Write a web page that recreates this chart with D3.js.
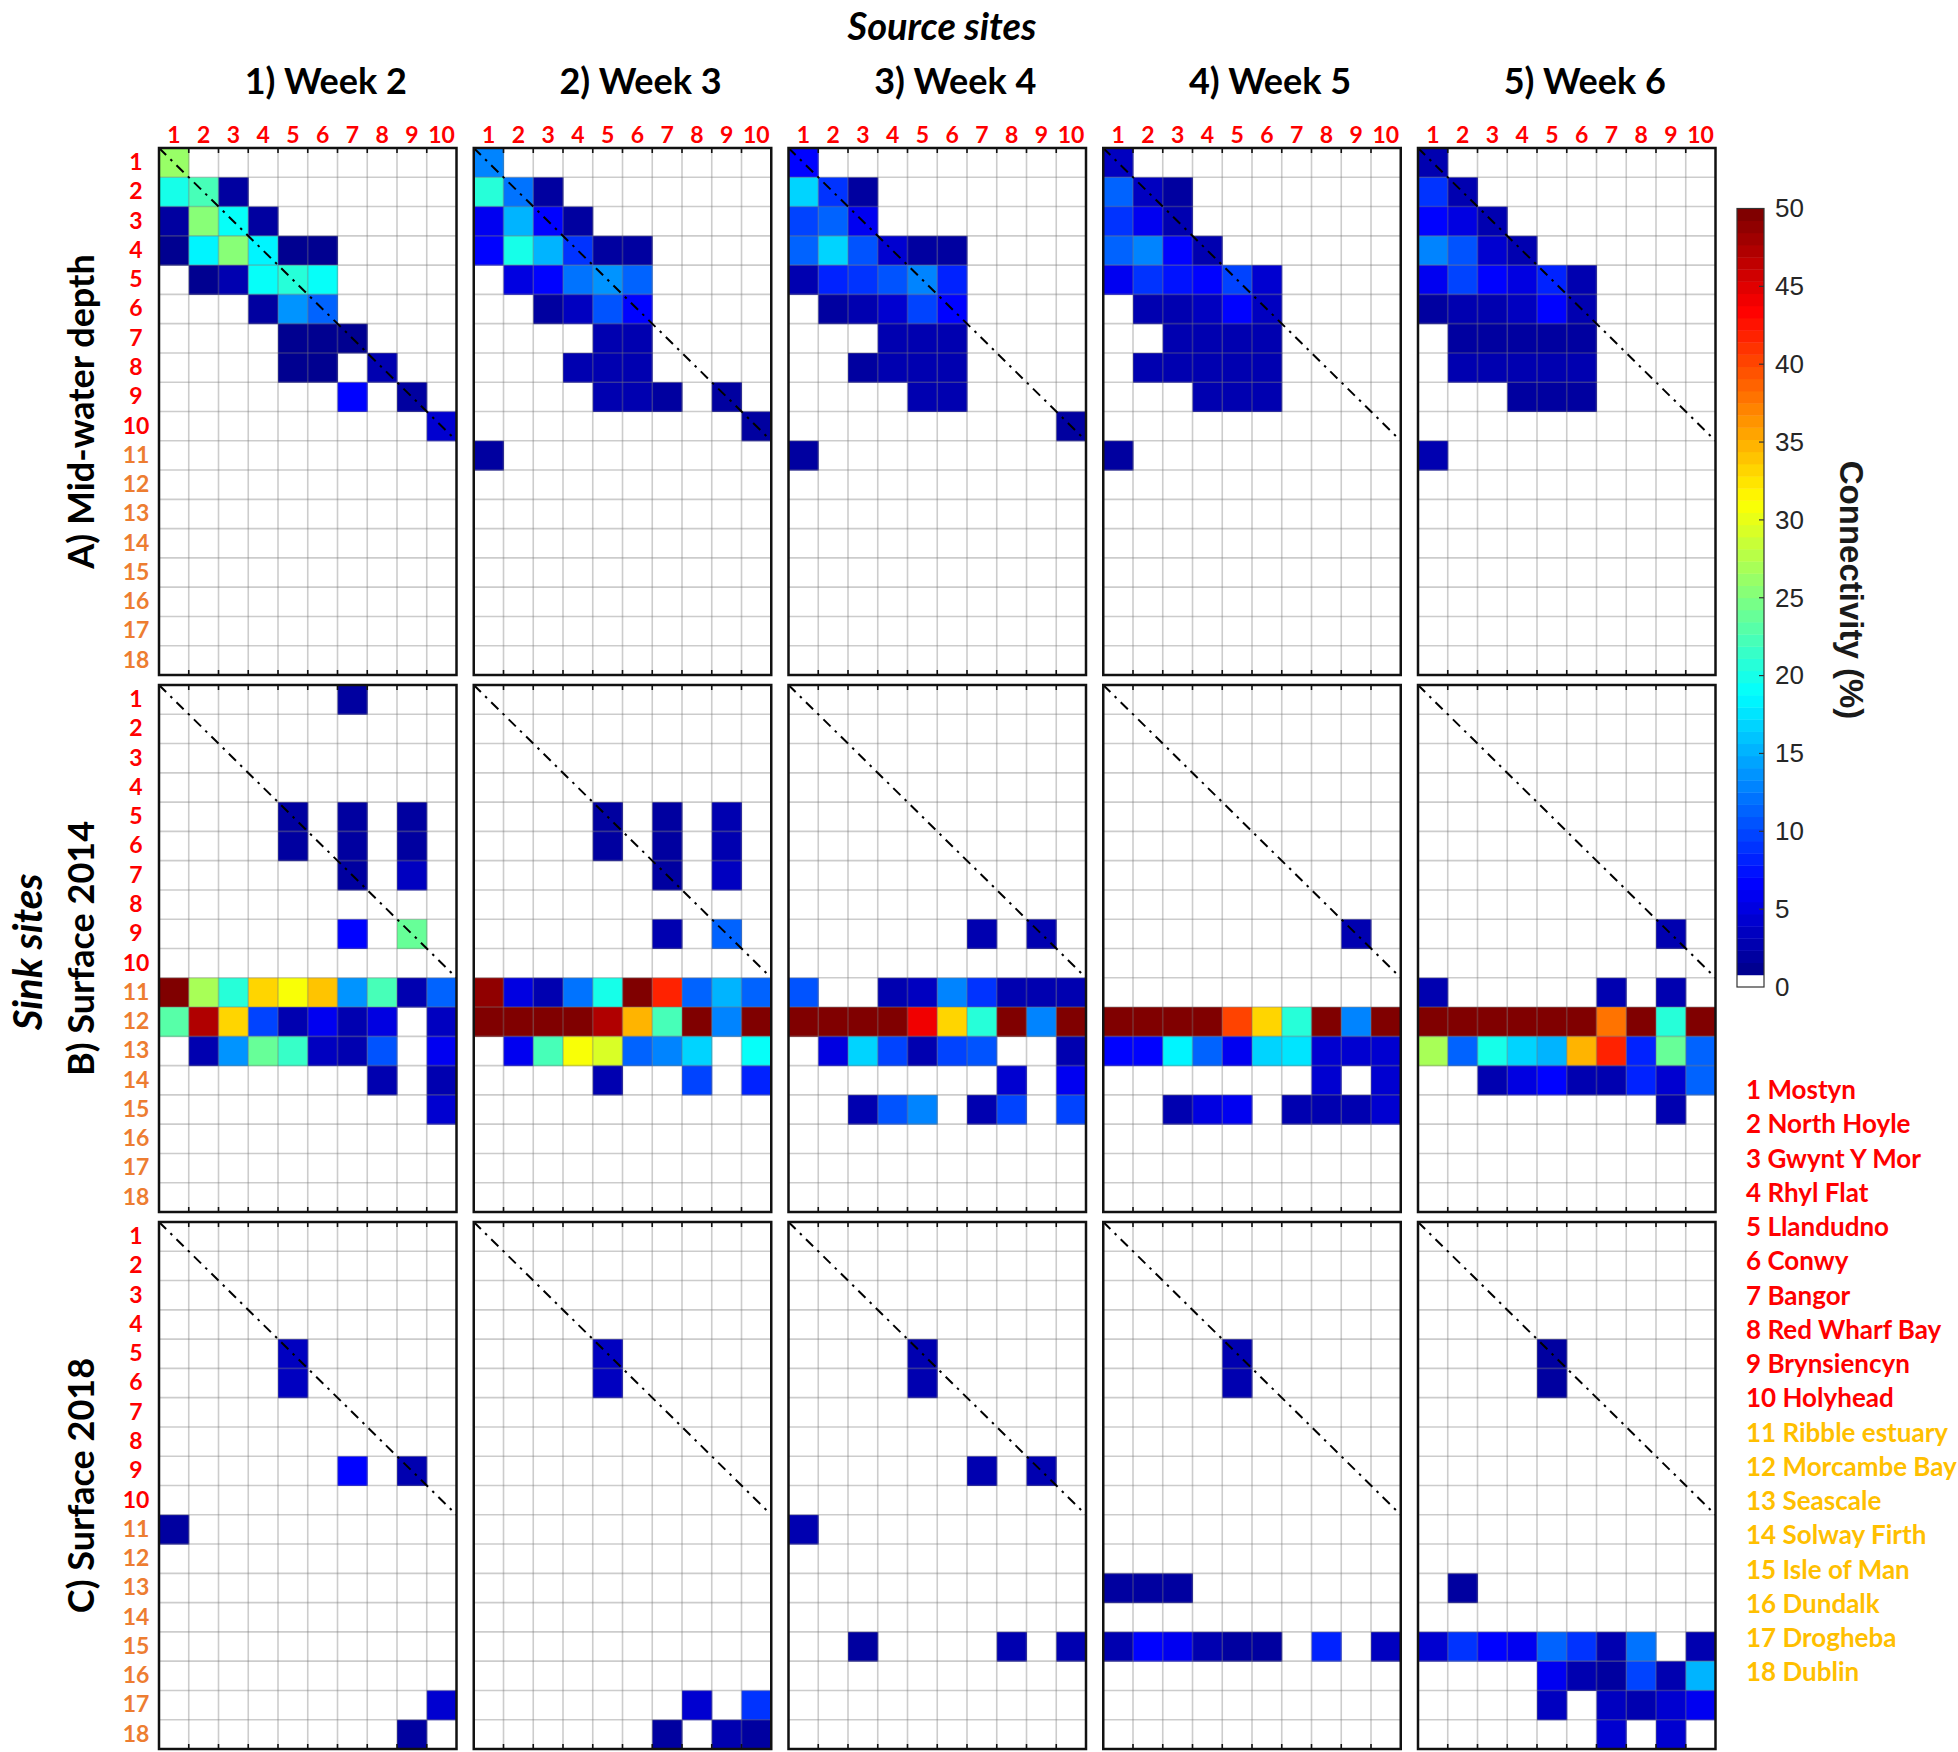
<!DOCTYPE html>
<html><head><meta charset="utf-8">
<script src="https://cdn.jsdelivr.net/npm/d3@7"></script>
<style>body{margin:0;background:#fff}</style>
</head><body><svg id="chart" width="1958" height="1752"></svg>
<script>
// ---------------- DATA ----------------
const sourceSites = [1,2,3,4,5,6,7,8,9,10];
const sinkSites = [1,2,3,4,5,6,7,8,9,10,11,12,13,14,15,16,17,18];
const weekTitles = ["1) Week 2","2) Week 3","3) Week 4","4) Week 5","5) Week 6"];
const layerTitles = ["A) Mid-water depth","B) Surface 2014","C) Surface 2018"];
const siteNames = ["Mostyn","North Hoyle","Gwynt Y Mor","Rhyl Flat","Llandudno","Conwy","Bangor",
  "Red Wharf Bay","Brynsiencyn","Holyhead","Ribble estuary","Morcambe Bay","Seascale",
  "Solway Firth","Isle of Man","Dundalk","Drogheba","Dublin"];
const colorbarTicks = [0,5,10,15,20,25,30,35,40,45,50];

// connectivity (%) as [sink row, source column, value]; missing cells are 0
const midWeek2 = [[1,1,26],[2,1,20],[2,2,22],[2,3,2],[3,1,2],[3,2,25],[3,3,19],[3,4,2],
  [4,1,1.5],[4,2,18],[4,3,25],[4,4,18],[4,5,1.5],[4,6,1.5],[5,2,1.5],[5,3,3],[5,4,19],[5,5,21],[5,6,19],
  [6,4,2],[6,5,13.5],[6,6,11],[7,5,1.5],[7,6,1.5],[7,7,1.5],[8,5,1.5],[8,6,1.5],[8,8,2.5],
  [9,7,7],[9,9,2],[10,10,4]];
const midWeek3 = [[1,1,13],[2,1,20.5],[2,2,12],[2,3,2],[3,1,6],[3,2,15],[3,3,7],[3,4,2],
  [4,1,6.5],[4,2,20],[4,3,15],[4,4,9],[4,5,2],[4,6,2],[5,2,5],[5,3,7],[5,4,12],[5,5,14],[5,6,11],
  [6,3,2],[6,4,3.5],[6,5,10.5],[6,6,7],[7,5,3],[7,6,3],[8,4,2.5],[8,5,3],[8,6,3],
  [9,5,2.5],[9,6,2.5],[9,7,2],[9,9,2],[10,10,2],[11,1,2]];
const midWeek4 = [[1,1,6.5],[2,1,17],[2,2,9],[2,3,2],[3,1,9.5],[3,2,11.5],[3,3,6],
  [4,1,11],[4,2,17],[4,3,10.5],[4,4,4.5],[4,5,2],[4,6,2],[5,1,2.5],[5,2,8.5],[5,3,9],[5,4,10.5],[5,5,12.5],[5,6,8],
  [6,2,2],[6,3,2.5],[6,4,4.5],[6,5,9.5],[6,6,6.5],[7,4,2.5],[7,5,2.5],[7,6,2.5],
  [8,3,2],[8,4,2.5],[8,5,2.5],[8,6,2.5],[9,5,2.5],[9,6,2.5],[10,10,2],[11,1,2]];
const midWeek5 = [[1,1,3.5],[2,1,11.5],[2,2,3.5],[2,3,2],[3,1,9],[3,2,6],[3,3,2.5],
  [4,1,11.5],[4,2,12.5],[4,3,6.5],[4,4,2.5],[5,1,5.5],[5,2,9],[5,3,7.5],[5,4,7],[5,5,9.5],[5,6,4.5],
  [6,2,3],[6,3,3],[6,4,3.5],[6,5,7],[6,6,3.5],[7,3,2.5],[7,4,2.5],[7,5,2.5],[7,6,2.5],
  [8,2,2.5],[8,3,2.5],[8,4,2.5],[8,5,2.5],[8,6,2.5],[9,4,2.5],[9,5,2.5],[9,6,2.5],[11,1,2]];
const midWeek6 = [[1,1,2.5],[2,1,9],[2,2,2.5],[3,1,7],[3,2,5],[3,3,2.5],
  [4,1,12.5],[4,2,10.5],[4,3,4],[4,4,2.5],[5,1,6],[5,2,10],[5,3,6.5],[5,4,5],[5,5,8.5],[5,6,3],
  [6,1,2],[6,2,3],[6,3,3],[6,4,3.5],[6,5,6.5],[6,6,3],[7,2,2],[7,3,2],[7,4,2],[7,5,2],[7,6,2],
  [8,2,2.5],[8,3,2.5],[8,4,2.5],[8,5,2.5],[8,6,2.5],[9,4,2],[9,5,2],[9,6,2],[11,1,2.5]];

const surf14Week2 = [[1,7,2],[5,5,2],[5,7,2],[5,9,2],[6,5,2],[6,7,2],[6,9,2],[7,7,2],[7,9,3.5],
  [9,7,7],[9,9,24],
  [11,1,50],[11,2,27],[11,3,20.5],[11,4,33],[11,5,31],[11,6,34],[11,7,14],[11,8,22],[11,9,3],[11,10,11.5],
  [12,1,23],[12,2,47],[12,3,33],[12,4,9.5],[12,5,3],[12,6,6],[12,7,2.5],[12,8,5],[12,10,3.5],
  [13,2,2.5],[13,3,14],[13,4,24],[13,5,21.5],[13,6,3.5],[13,7,3],[13,8,10.5],[13,10,5.5],
  [14,8,2.5],[14,10,3],[15,10,4]];
const surf14Week3 = [[5,5,2],[5,7,2],[5,9,2.5],[6,5,2],[6,7,2],[6,9,3],[7,7,2],[7,9,3.5],
  [9,7,2.5],[9,9,11.5],
  [11,1,48.5],[11,2,5],[11,3,2.5],[11,4,12],[11,5,20],[11,6,50],[11,7,42],[11,8,11],[11,9,15],[11,10,11],
  [12,1,50],[12,2,50],[12,3,50],[12,4,50],[12,5,47],[12,6,34.5],[12,7,22],[12,8,50],[12,9,13],[12,10,50],
  [13,2,5.5],[13,3,22],[13,4,31],[13,5,29],[13,6,11.5],[13,7,12.5],[13,8,16.5],[13,10,19],
  [14,5,2.5],[14,8,9.5],[14,10,8.5]];
const surf14Week4 = [[9,7,2.5],[9,9,3],
  [11,1,10.5],[11,4,2.5],[11,5,3.5],[11,6,12.5],[11,7,9],[11,8,2.5],[11,9,3],[11,10,2.5],
  [12,1,50],[12,2,50],[12,3,50],[12,4,50],[12,5,44.5],[12,6,33],[12,7,21],[12,8,50],[12,9,13],[12,10,50],
  [13,2,5],[13,3,16.5],[13,4,10],[13,5,3],[13,6,10],[13,7,10.5],[13,10,3],
  [14,8,4.5],[14,10,6],
  [15,3,2.5],[15,4,10.5],[15,5,13],[15,7,2.5],[15,8,9.5],[15,10,9.5]];
const surf14Week5 = [[9,9,2.5],
  [12,1,50],[12,2,50],[12,3,50],[12,4,50],[12,5,40.5],[12,6,33],[12,7,20.5],[12,8,50],[12,9,13],[12,10,50],
  [13,1,6.5],[13,2,6.5],[13,3,18.5],[13,4,11.5],[13,5,5.5],[13,6,17],[13,7,17.5],[13,8,4],[13,9,4],[13,10,4],
  [14,8,4.5],[14,10,4.5],
  [15,3,2.5],[15,4,5],[15,5,6],[15,7,3],[15,8,3],[15,9,2.5],[15,10,4]];
const surf14Week6 = [[9,9,2.5],[11,1,2.5],[11,7,2.5],[11,9,2.5],
  [12,1,50],[12,2,50],[12,3,50],[12,4,50],[12,5,50],[12,6,50],[12,7,37.5],[12,8,50],[12,9,20.5],[12,10,50],
  [13,1,27],[13,2,11],[13,3,20],[13,4,17],[13,5,15.5],[13,6,35],[13,7,41.5],[13,8,8.5],[13,9,24],[13,10,11],
  [14,3,2.5],[14,4,5],[14,5,6.5],[14,6,2.5],[14,7,2.5],[14,8,8],[14,9,4.5],[14,10,11],
  [15,9,2.5]];

const surf18Week2 = [[5,5,3.5],[6,5,3.5],[9,7,6.5],[9,9,2.5],[11,1,2],[17,10,4],[18,9,2]];
const surf18Week3 = [[5,5,3.5],[6,5,3.5],[17,8,4],[17,10,9],[18,7,2],[18,9,2.5],[18,10,2]];
const surf18Week4 = [[5,5,2.5],[6,5,2.5],[9,7,2.5],[9,9,2.5],[11,1,2.5],[15,3,2],[15,8,2.5],[15,10,2.5]];
const surf18Week5 = [[5,5,2.5],[6,5,2.5],[13,1,2],[13,2,2],[13,3,2],
  [15,1,2.5],[15,2,6.5],[15,3,5.5],[15,4,2.5],[15,5,2],[15,6,2],[15,8,8.5],[15,10,3.5]];
const surf18Week6 = [[5,5,2],[6,5,2],[13,2,2],
  [15,1,4.5],[15,2,9],[15,3,6.5],[15,4,6],[15,5,11],[15,6,9],[15,7,2.5],[15,8,12],[15,10,2.5],
  [16,5,5.5],[16,6,2.5],[16,7,2],[16,8,9.5],[16,9,2.5],[16,10,15],
  [17,5,3.5],[17,7,3.5],[17,8,3],[17,9,4],[17,10,6],
  [18,7,4.5],[18,9,4.5]];

const panelData = [
  [midWeek2, midWeek3, midWeek4, midWeek5, midWeek6],
  [surf14Week2, surf14Week3, surf14Week4, surf14Week5, surf14Week6],
  [surf18Week2, surf18Week3, surf18Week4, surf18Week5, surf18Week6]
];

// ---------------- LAYOUT ----------------
const svg = d3.select("#chart");
const labelFont = "Lato, 'Open Sans', sans-serif";
const panelW = 297.5, panelH = 527;
const panelLeft0 = 159, panelStepX = 314.75;
const panelTop0 = 148, panelStepY = 537;
const redSite = "#ff0000", orangeSite = "#ed7d31", goldSite = "#ffbf00";

const x = d3.scaleBand().domain(sourceSites).range([0, panelW]);
const y = d3.scaleBand().domain(sinkSites).range([0, panelH]);

function clamp(v){ return Math.max(0, Math.min(1, v)); }
function jet(t){
  return d3.rgb(255*clamp(1.5-Math.abs(4*t-3)), 255*clamp(1.5-Math.abs(4*t-2)), 255*clamp(1.5-Math.abs(4*t-1)));
}
const nColors = 64;
const cmap = d3.range(nColors).map(i => i === 0 ? "#ffffff" : jet(i/(nColors-1)).formatHex());
const color = d3.scaleQuantize().domain([0, 50]).range(cmap);

// Titles
svg.append("text").attr("x", 942).attr("y", 40).attr("text-anchor", "middle")
  .style("font-family", labelFont).style("font-weight", "bold").style("font-style", "italic")
  .style("font-size", "38px").text("Source sites");
svg.append("text").attr("transform", "translate(27,952) rotate(-90)").attr("text-anchor", "middle")
  .attr("dominant-baseline", "central")
  .style("font-family", labelFont).style("font-weight", "bold").style("font-style", "italic")
  .style("font-size", "40px").text("Sink sites");

weekTitles.forEach((t, j) => {
  svg.append("text").attr("x", panelLeft0 + j*panelStepX + panelW/2 + 18).attr("y", 94)
    .attr("text-anchor", "middle").style("font-family", labelFont).style("font-weight", "bold")
    .style("font-size", "36px").text(t);
});
layerTitles.forEach((t, i) => {
  svg.append("text").attr("transform", `translate(80,${panelTop0 + i*panelStepY + panelH/2}) rotate(-90)`)
    .attr("text-anchor", "middle").attr("dominant-baseline", "central")
    .style("font-family", labelFont).style("font-weight", "bold")
    .style("font-size", "36px").text(t);
});

// Panels
panelData.forEach((row, i) => {
  row.forEach((cells, j) => {
    const g = svg.append("g")
      .attr("transform", `translate(${panelLeft0 + j*panelStepX},${panelTop0 + i*panelStepY})`);
    g.append("rect").attr("width", panelW).attr("height", panelH).attr("fill", "#fff");
    g.selectAll("rect.cell").data(cells).join("rect").attr("class", "cell")
      .attr("x", d => x(d[1])).attr("y", d => y(d[0]))
      .attr("width", x.bandwidth() + 0.5).attr("height", y.bandwidth() + 0.5)
      .attr("fill", d => color(d[2]));
    // grid
    g.selectAll("line.gv").data(sourceSites.slice(1)).join("line").attr("class", "gv")
      .attr("x1", d => x(d)).attr("x2", d => x(d)).attr("y1", 0).attr("y2", panelH)
      .attr("stroke", "#7a7a7a").attr("stroke-opacity", 0.38).attr("stroke-width", 1.6);
    g.selectAll("line.gh").data(sinkSites.slice(1)).join("line").attr("class", "gh")
      .attr("y1", d => y(d)).attr("y2", d => y(d)).attr("x1", 0).attr("x2", panelW)
      .attr("stroke", "#7a7a7a").attr("stroke-opacity", 0.38).attr("stroke-width", 1.6);
    // ticks top & bottom
    g.selectAll("line.tt").data(sourceSites.slice(1)).join("line").attr("class", "tt")
      .attr("x1", d => x(d)).attr("x2", d => x(d)).attr("y1", 0).attr("y2", 5)
      .attr("stroke", "#111").attr("stroke-width", 1.6);
    g.selectAll("line.tb").data(sourceSites.slice(1)).join("line").attr("class", "tb")
      .attr("x1", d => x(d)).attr("x2", d => x(d)).attr("y1", panelH - 5).attr("y2", panelH)
      .attr("stroke", "#111").attr("stroke-width", 1.6);
    // diagonal (self-recruitment line)
    g.append("line").attr("x1", 0).attr("y1", 0)
      .attr("x2", x.range()[1]).attr("y2", y(sourceSites[sourceSites.length-1]) + y.bandwidth())
      .attr("stroke", "#000").attr("stroke-width", 2).attr("stroke-dasharray", "10,6,2.5,6");
    g.append("rect").attr("width", panelW).attr("height", panelH)
      .attr("fill", "none").attr("stroke", "#111").attr("stroke-width", 2.5);

    if (i === 0) {
      const ax = g.append("g").call(d3.axisTop(x).tickSize(0).tickPadding(5));
      ax.select(".domain").remove();
      ax.selectAll("text").style("font-family", labelFont).style("font-weight", "bold")
        .style("font-size", "23px").attr("fill", redSite);
    }
    if (j === 0) {
      const ay = g.append("g").call(d3.axisLeft(y).tickSize(0));
      ay.select(".domain").remove();
      ay.selectAll("text").attr("x", -23).attr("text-anchor", "middle")
        .style("font-family", labelFont).style("font-weight", "bold").style("font-size", "23px")
        .attr("fill", d => d <= 10 ? redSite : orangeSite);
    }
  });
});

// Colorbar
const cbX = 1737, cbW = 27;
const cbScale = d3.scaleLinear().domain([0, 50]).range([987, 208.5]);
const cb = svg.append("g");
cb.selectAll("rect").data(cmap).join("rect")
  .attr("x", cbX).attr("width", cbW)
  .attr("y", (c, k) => cbScale((k+1)*50/nColors))
  .attr("height", (c, k) => cbScale(k*50/nColors) - cbScale((k+1)*50/nColors) + 0.4)
  .attr("fill", c => c);
cb.append("rect").attr("x", cbX).attr("y", cbScale(50)).attr("width", cbW)
  .attr("height", cbScale(0) - cbScale(50)).attr("fill", "none").attr("stroke", "#333").attr("stroke-width", 1.2);
const cax = cb.append("g").attr("transform", `translate(${cbX + cbW},0)`)
  .call(d3.axisRight(cbScale).tickValues(colorbarTicks).tickSize(0).tickPadding(11));
cax.select(".domain").remove();
cax.selectAll("text").style("font-family", "'Liberation Sans', Arial, sans-serif")
  .style("font-size", "26px").attr("fill", "#262626");
cb.selectAll("line.cbt").data(colorbarTicks.slice(1, -1)).join("line").attr("class", "cbt")
  .attr("x1", cbX + cbW - 5).attr("x2", cbX + cbW).attr("y1", d => cbScale(d)).attr("y2", d => cbScale(d))
  .attr("stroke", "#333").attr("stroke-width", 1.2);
svg.append("text").attr("transform", "translate(1851,590) rotate(90)").attr("text-anchor", "middle")
  .attr("dominant-baseline", "central")
  .style("font-family", "'Liberation Sans', Arial, sans-serif").style("font-weight", "bold")
  .style("font-size", "33px").attr("fill", "#1a1a1a").text("Connectivity (%)");

// Site legend
svg.append("g").selectAll("text").data(siteNames).join("text")
  .attr("x", 1746).attr("y", (d, k) => 1099 + k*34.25)
  .style("font-family", labelFont).style("font-weight", "bold").style("font-size", "26px")
  .attr("fill", (d, k) => k < 10 ? redSite : goldSite)
  .text((d, k) => `${k+1} ${d}`);
</script></body></html>
